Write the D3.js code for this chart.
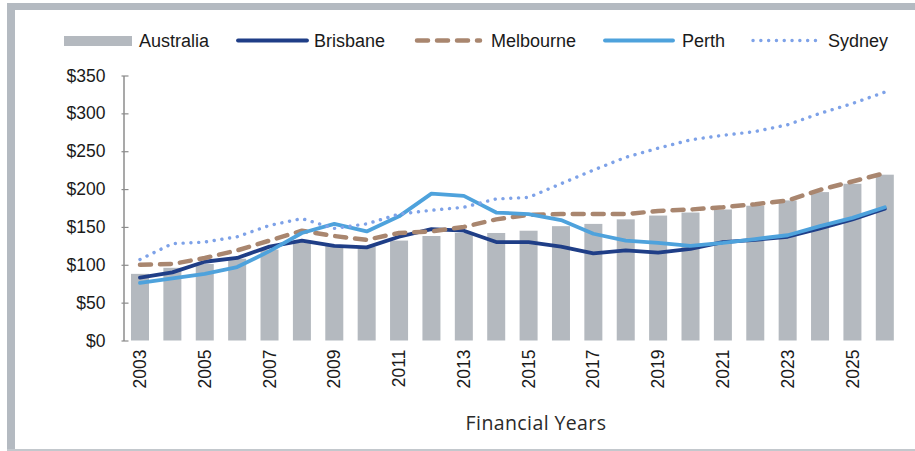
<!DOCTYPE html>
<html>
<head>
<meta charset="utf-8">
<script src="https://cdn.jsdelivr.net/npm/d3@7/dist/d3.min.js"></script>
<style>
  html, body { margin: 0; padding: 0; background: #fff; }
  svg { display: block; }
</style>
</head>
<body>
<svg id="chart" width="915" height="451"></svg>
<script>
const years = d3.range(2003, 2027);
const australia = [88, 96, 101, 108, 120, 130, 125, 124, 132, 138, 142, 142, 145, 151, 154, 160, 165, 169, 173, 178, 185, 196, 207, 219];
const brisbane  = [83, 90, 104, 109, 124, 132, 125, 123, 137, 147, 145, 130, 130, 124, 115, 119, 116, 121, 130, 133, 137, 148, 160, 174];
const melbourne = [100, 101, 109, 119, 132, 145, 138, 133, 142, 144, 150, 160, 166, 167, 167, 167, 171, 173, 176, 180, 185, 199, 210, 221];
const perth     = [76, 82, 88, 97, 118, 142, 154, 144, 164, 194, 191, 169, 167, 159, 141, 132, 129, 125, 129, 134, 139, 151, 162, 176];
const sydney    = [107, 128, 130, 137, 152, 161, 148, 154, 167, 172, 176, 187, 189, 207, 225, 242, 254, 265, 271, 276, 285, 300, 313, 328];
const yTicks = [0, 50, 100, 150, 200, 250, 300, 350];
const xTickYears = d3.range(2003, 2027, 2);
const legendLabels = ["Australia", "Brisbane", "Melbourne", "Perth", "Sydney"];

const colors = {
  Australia: "#b4b9bf",
  Brisbane: "#1f3e87",
  Melbourne: "#a9866f",
  Perth: "#4ea2dc",
  Sydney: "#7ea2e8"
};

const svg = d3.select("#chart");
const font = "'Liberation Sans', Arial, sans-serif";
const textColor = "#1a1a1a";

// frame
svg.append("rect").attr("x", 7).attr("y", 3).attr("width", 908).attr("height", 7).attr("fill", "#b4bac1");
svg.append("rect").attr("x", 7).attr("y", 3).attr("width", 8).attr("height", 448).attr("fill", "#b4bac1");
svg.append("rect").attr("x", 7).attr("y", 449).attr("width", 908).attr("height", 2).attr("fill", "#c3c8cd");

const x = d3.scaleBand().domain(years).range([123.8, 901]).paddingInner(0.444).paddingOuter(0.222);
const y = d3.scaleLinear().domain([0, 350]).range([340.5, 75.5]);

// bars
svg.append("g").selectAll("rect").data(years).join("rect")
  .attr("x", d => x(d))
  .attr("width", x.bandwidth())
  .attr("y", (d, i) => y(australia[i]))
  .attr("height", (d, i) => y(0) - y(australia[i]))
  .attr("fill", colors.Australia);

// y axis
const yAxis = svg.append("g").attr("transform", "translate(123.5,0)")
  .call(d3.axisLeft(y).tickValues(yTicks).tickFormat(d => "$" + d).tickSize(0).tickPadding(18));
yAxis.select(".domain").attr("stroke", "#8c8c8c").attr("stroke-width", 1.5);
yAxis.selectAll(".tick line").attr("x1", -2).attr("x2", 5).attr("stroke", "#8c8c8c").attr("stroke-width", 1.2);
yAxis.selectAll("text").attr("font-family", font).attr("font-size", "17.5px").attr("fill", textColor);

// x axis labels
const xAxis = svg.append("g").attr("transform", "translate(0,340.5)")
  .call(d3.axisBottom(x).tickValues(xTickYears).tickSize(0).tickPadding(0));
xAxis.select(".domain").remove();
xAxis.selectAll("text")
  .attr("font-family", font).attr("font-size", "17.5px").attr("fill", textColor)
  .attr("text-anchor", "end")
  .attr("transform", "translate(0,9) rotate(-90)")
  .attr("x", 0).attr("y", 0).attr("dy", "0.35em");

// lines
const cx = d => x(d) + x.bandwidth() / 2;
function drawLine(vals, color, width, dash, cap) {
  const line = d3.line().x((d, i) => cx(years[i])).y(d => y(d));
  const p = svg.append("path").datum(vals)
    .attr("d", line)
    .attr("fill", "none")
    .attr("stroke", color)
    .attr("stroke-width", width)
    .attr("stroke-linejoin", "round")
    .attr("stroke-linecap", cap || "round");
  if (dash) p.attr("stroke-dasharray", dash);
}
drawLine(brisbane, colors.Brisbane, 3.8);
drawLine(melbourne, colors.Melbourne, 4.5, "11,9");
drawLine(perth, colors.Perth, 3.8);
drawLine(sydney, colors.Sydney, 3.4, "0.1,7.7");

// legend
const lg = svg.append("g");
lg.append("rect").attr("x", 64).attr("y", 36).attr("width", 68).attr("height", 10).attr("fill", colors.Australia);
const legendItems = [
  { name: "Brisbane", x1: 238, x2: 307, dash: null, w: 3.8 },
  { name: "Melbourne", x1: 417, x2: 480, dash: "11,9", w: 4.5 },
  { name: "Perth", x1: 605, x2: 673, dash: null, w: 3.8 },
  { name: "Sydney", x1: 753, x2: 819, dash: "0.1,7.7", w: 3.4 }
];
legendItems.forEach(it => {
  const l = lg.append("line").attr("x1", it.x1).attr("x2", it.x2).attr("y1", 40.5).attr("y2", 40.5)
    .attr("stroke", colors[it.name]).attr("stroke-width", it.w).attr("stroke-linecap", "round");
  if (it.dash) l.attr("stroke-dasharray", it.dash);
});
const textX = [139, 314, 491, 682, 828];
lg.selectAll("text").data(legendLabels).join("text")
  .attr("x", (d, i) => textX[i]).attr("y", 40.5).attr("dy", "0.35em")
  .attr("font-family", font).attr("font-size", "18px").attr("fill", textColor)
  .text(d => d);

// x axis title
svg.append("text").attr("x", 536).attr("y", 423.5).attr("dy", "0.35em")
  .attr("text-anchor", "middle")
  .attr("font-family", "'Open Sans', sans-serif").attr("font-size", "19.5px").attr("fill", "#2a2a2a")
  .attr("letter-spacing", "0.4px")
  .text("Financial Years");
</script>
</body>
</html>
